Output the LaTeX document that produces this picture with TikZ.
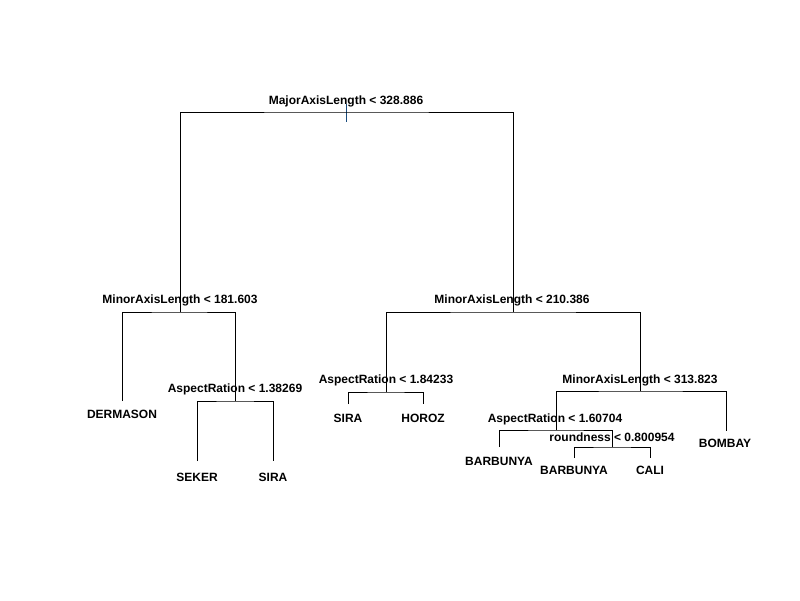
\documentclass[tikz,border=0pt]{standalone}
\usepackage{fontspec}
\setmainfont{Liberation Sans}
\begin{document}
\begin{tikzpicture}[x=1pt,y=-1pt,
  edge/.style={draw=black,line width=1pt},
  lbl/.style={font=\bfseries\fontsize{12}{14}\selectfont,inner sep=0pt,anchor=center},
  pt/.style={inner sep=0pt,minimum size=0pt}]
\useasboundingbox[fill=white] (0,0) rectangle (800,600);
% split points
\coordinate (r) at (346,112);
\coordinate (n1) at (180,312);
\coordinate (n2) at (513,312);
\coordinate (n11) at (235,401);
\coordinate (n21) at (386,392);
\coordinate (n22) at (640,391);
\coordinate (n221) at (556,430);
\coordinate (n2212) at (612,447);
% leaves
\coordinate (lDER) at (122,401);
\coordinate (lSEK) at (197,461);
\coordinate (lSIR1) at (273,461);
\coordinate (lSIR2) at (348,404);
\coordinate (lHOR) at (423,404);
\coordinate (lBOM) at (726,431);
\coordinate (lBAR1) at (499,447);
\coordinate (lBAR2) at (574,458);
\coordinate (lCAL) at (650,458);
% root stem
\draw[line width=1pt,color={rgb,255:red,25;green,75;blue,125}] (346,104) -- (346,122);
% edges
\draw[edge] (n1) |- (r) -| (n2);
\draw[edge] (lDER) |- (n1) -| (n11);
\draw[edge] (lSEK) |- (n11) -| (lSIR1);
\draw[edge] (n21) |- (n2) -| (n22);
\draw[edge] (lSIR2) |- (n21) -| (lHOR);
\draw[edge] (n221) |- (n22) -| (lBOM);
\draw[edge] (lBAR1) |- (n221) -| (n2212);
\draw[edge] (lBAR2) |- (n2212) -| (lCAL);
% split labels
\node[lbl] (t0) at (346,101) {MajorAxisLength < 328.886};
\node[lbl] (t1) at (180,300) {MinorAxisLength < 181.603};
\node[lbl] (t2) at (512,300) {MinorAxisLength < 210.386};
\node[lbl] (t11) at (235,389) {AspectRation < 1.38269};
\node[lbl] (t21) at (386,380) {AspectRation < 1.84233};
\node[lbl] (t22) at (640,380) {MinorAxisLength < 313.823};
\node[lbl] (t221) at (555,419) {AspectRation < 1.60704};
\node[lbl] (t2212) at (612,437) {roundness < 0.800954};
% leaf labels
\node[lbl] (d) at (122,414) {DERMASON};
\node[lbl] (s1) at (197,477) {SEKER};
\node[lbl] (s2) at (273,477) {SIRA};
\node[lbl] (s3) at (348,418) {SIRA};
\node[lbl] (h) at (423,418) {HOROZ};
\node[lbl] (b1) at (499,461) {BARBUNYA};
\node[lbl] (b2) at (574,470) {BARBUNYA};
\node[lbl] (c) at (650,470) {CALI};
\node[lbl] (bo) at (725,443) {BOMBAY};
\end{tikzpicture}
\end{document}
